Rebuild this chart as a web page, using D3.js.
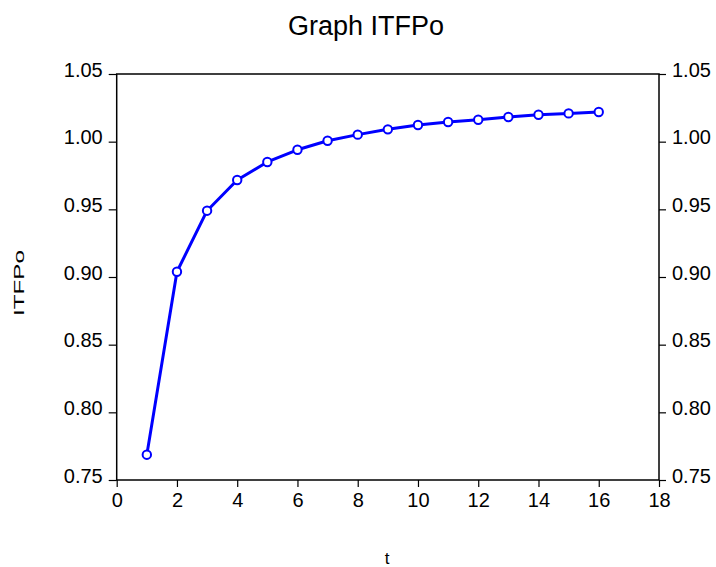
<!DOCTYPE html>
<html><head><meta charset="utf-8">
<script src="https://cdn.jsdelivr.net/npm/d3@7"></script>
<style>body{margin:0;background:#fff}svg{display:block}text{font-family:"Liberation Sans",Arial,sans-serif;fill:#000}</style>
</head><body>
<script>
const tValues = [1,2,3,4,5,6,7,8,9,10,11,12,13,14,15,16];
const itfpo = [0.7687,0.9039,0.9490,0.9717,0.9850,0.9940,1.0007,1.0052,1.0091,1.0123,1.0145,1.0162,1.0182,1.0199,1.0209,1.0219];
const xTicks = [0,2,4,6,8,10,12,14,16,18];
const yTicks = [0.75,0.80,0.85,0.90,0.95,1.00,1.05];
const titleText = "Graph ITFPo";
const xLabel = "t", yLabel = "ITFPo";

const W=716,H=567, L=116.7, R=659, T=74, B=480;
const svg=d3.select("body").append("svg").attr("width",W).attr("height",H);
const x=d3.scaleLinear().domain([0,18]).range([L,R]);
const y=d3.scaleLinear().domain([0.75,1.05]).range([B,T]);

svg.append("rect").attr("x",L).attr("y",T).attr("width",R-L).attr("height",B-T)
  .attr("fill","none").attr("stroke","#000").attr("stroke-width",1.5);

const fmt=d3.format(".2f");
const gl=svg.append("g").attr("transform",`translate(${L},0)`)
  .call(d3.axisLeft(y).tickValues(yTicks).tickFormat(fmt).tickSize(8).tickPadding(6));
const gr=svg.append("g").attr("transform",`translate(${R},0)`)
  .call(d3.axisRight(y).tickValues(yTicks).tickFormat(fmt).tickSize(7).tickPadding(6));
const gb=svg.append("g").attr("transform",`translate(0,${B})`)
  .call(d3.axisBottom(x).tickValues(xTicks).tickFormat(d3.format("d")).tickSize(7).tickPadding(6));
[gl,gr,gb].forEach(g=>{
  g.select(".domain").remove();
  g.selectAll(".tick line").attr("stroke","#000").attr("stroke-width",1.2);
  g.selectAll("text").style("font-size","20px").attr("fill","#000");
});
gl.selectAll("text").attr("dy","0.1em");
gr.selectAll("text").attr("dy","0.1em");
gb.selectAll("text").attr("dy","0.71em");

const line=d3.line().x((d,i)=>x(tValues[i])).y(d=>y(d));
svg.append("path").datum(itfpo).attr("d",line).attr("fill","none")
  .attr("stroke","#0000FF").attr("stroke-width",3).attr("stroke-linejoin","round");
svg.selectAll("circle.pt").data(itfpo).enter().append("circle").attr("class","pt")
  .attr("cx",(d,i)=>x(tValues[i])).attr("cy",d=>y(d)).attr("r",4.2)
  .attr("fill","#fff").attr("stroke","#0000FF").attr("stroke-width",2);

svg.append("text").attr("x",366).attr("y",35).attr("text-anchor","middle")
  .style("font-size","27px").text(titleText);
svg.append("text").attr("x",387).attr("y",564).attr("text-anchor","middle")
  .style("font-size","17px").text(xLabel);
svg.append("text").attr("transform","translate(24,283) rotate(-90)").attr("text-anchor","middle")
  .style("font-size","14px").attr("textLength",66).attr("lengthAdjust","spacingAndGlyphs").text(yLabel);
</script>
</body></html>
